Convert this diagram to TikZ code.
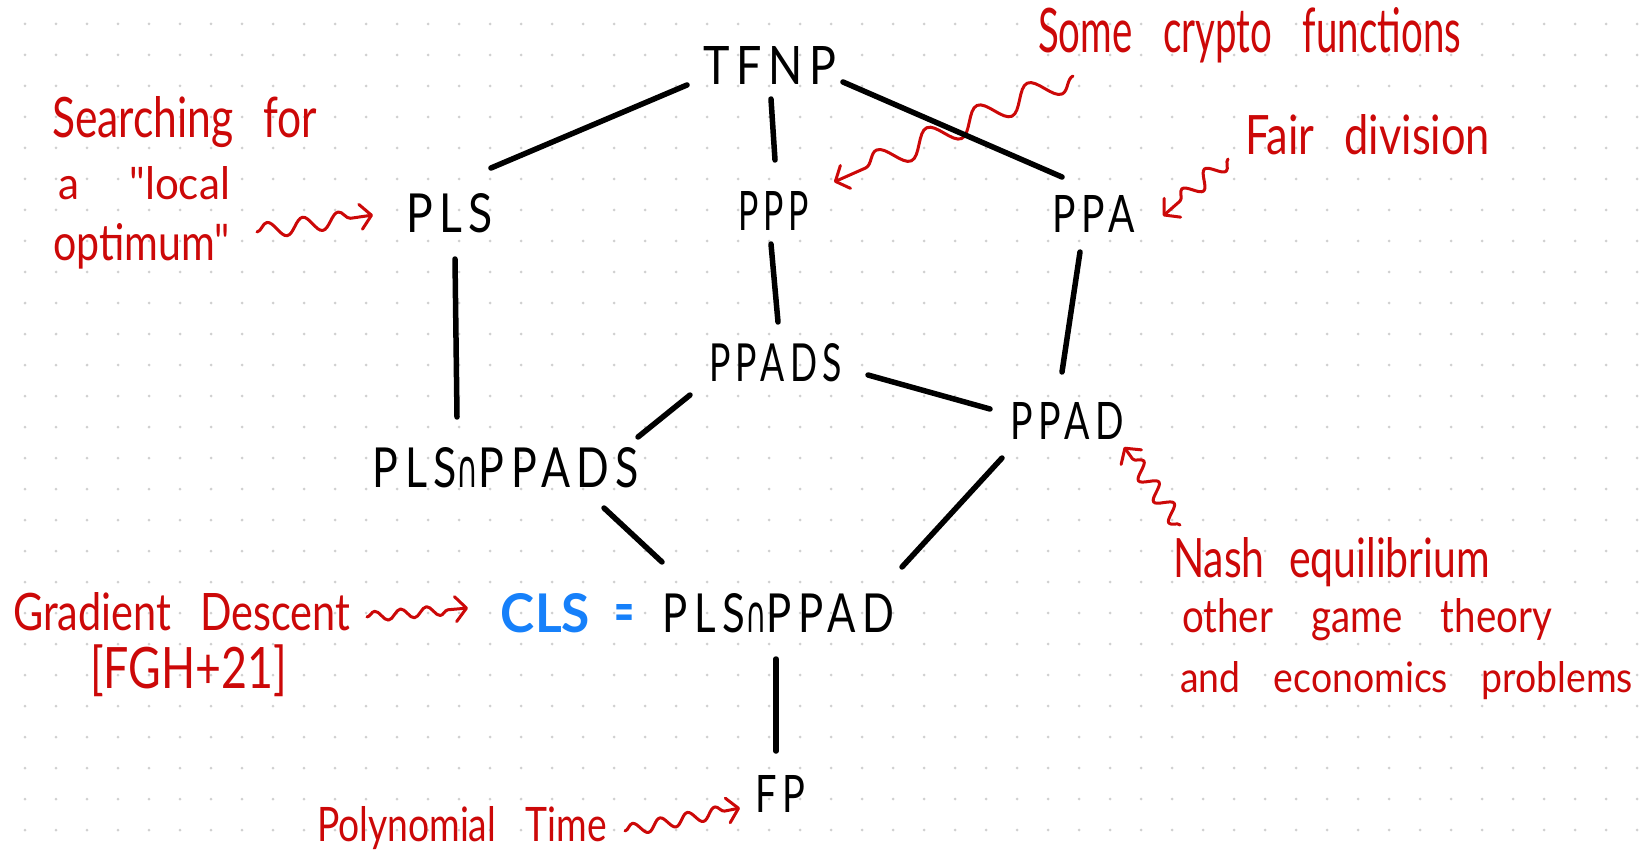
\documentclass[tikz,border=0pt]{standalone}
\usepackage{fontspec}
\usepackage{graphicx}
\setmainfont{Lato}
\newfontfamily\symfont{DejaVu Sans}
\newfontfamily\quotefont{Lato}[Ligatures=TeXOff]
\newfontfamily\labfont{Lato}[LetterSpace=15.0]
\usetikzlibrary{arrows.meta,decorations.pathmorphing}

\definecolor{notered}{RGB}{204,8,8}
\definecolor{clsblue}{RGB}{22,128,250}
\definecolor{dotgray}{RGB}{208,208,208}

% text scaled to a given width and height, with its depth hidden
\newcommand{\fitbox}[3]{\raisebox{0pt}[\height][0pt]{\resizebox{#1}{#2}{#3}}}
\newcommand{\capsym}{{\symfont\scalebox{0.7}[0.95]{∩}}}
\newcommand{\sq}{{\quotefont"}}

\tikzset{
  lbl/.style={inner sep=0pt, outer sep=0pt, font=\labfont\fontsize{40}{48}\selectfont},
  note/.style={inner sep=0pt, outer sep=0pt, anchor=base west, text=notered,
    font=\fontsize{40}{48}\selectfont},
  edge/.style={line width=5.5pt, line cap=round, black},
  squig/.style={notered, line width=3pt, line cap=round, line join=round, decorate,
    -{Straight Barb[length=11pt,width=25pt,round]}}
}

\begin{document}
\begin{tikzpicture}[x=1pt,y=-1pt]
\fill[white] (0,0) rectangle (1639,853);
\useasboundingbox (0,0) rectangle (1639,853);

% dotted paper
\foreach \i in {0,...,52}{
  \foreach \j in {0,...,26}{
    \fill[dotgray] ({25+31*\i},{24+31*\j}) circle[radius=1.5pt];
  }
}

% complexity classes
\node[lbl] (tfnp) at (769.5,65) {\fitbox{133pt}{38pt}{TFNP}};
\node[lbl] (pls) at (449.5,212.5) {\fitbox{87pt}{39pt}{PLS}};
\node[lbl] (ppp) at (773.5,210.5) {\fitbox{71pt}{39pt}{PPP}};
\node[lbl] (ppa) at (1093.5,213.5) {\fitbox{83pt}{37pt}{PPA}};
\node[lbl] (ppads) at (775.5,362) {\fitbox{133pt}{38pt}{PPADS}};
\node[lbl] (ppad) at (1067,420.5) {\fitbox{114pt}{37pt}{PPAD}};
\node[lbl] (plsppads) at (506,467) {\fitbox{266pt}{40pt}{PLS\capsym PPADS}};
\node[lbl] (clsppad) at (697.5,612.5) {{\color{clsblue}\fontspec{Lato}\bfseries\fitbox{89pt}{39pt}{CLS}\hspace{25pt}\fitbox{20pt}{28pt}{=}}\hspace{28pt}\fitbox{231pt}{39pt}{PLS\capsym PPAD}};
\node[lbl] (fp) at (780,793.5) {\fitbox{50pt}{37pt}{FP}};

% annotations
\node[note] (srch1) at (52,138) {\fitbox{265pt}{41pt}{Searching\hspace{0.7em}for}};
\node[note] (srch2) at (58,200) {\fitbox{172pt}{33pt}{a\hspace{1.2em}\sq local}};
\node[note] (srch3) at (53,260) {\fitbox{177pt}{37pt}{optimum\sq}};
\node[note] (crypto) at (1038,53) {\fitbox{423pt}{45pt}{Some\hspace{0.8em}crypto\hspace{0.8em}functions}};
\node[note] (fair) at (1245,155) {\fitbox{245pt}{40pt}{Fair\hspace{0.7em}division}};
\node[note] (nash1) at (1173,577) {\fitbox{317pt}{40pt}{Nash\hspace{0.6em}equilibrium}};
\node[note] (nash2) at (1182,632) {\fitbox{370pt}{34pt}{other\hspace{1em}game\hspace{1em}theory}};
\node[note] (nash3) at (1180,692) {\fitbox{453pt}{31pt}{and\hspace{0.9em}economics\hspace{0.9em}problems}};
\node[note] (grad) at (13,630) {\fitbox{337pt}{38pt}{Gradient\hspace{0.7em}Descent}};
\node[note, anchor=north west] (fgh) at (90,645) {\resizebox*{197pt}{52pt}{[FGH+21]}};
\node[note] (poly) at (317,841) {\fitbox{290pt}{35pt}{Polynomial\hspace{0.8em}Time}};

% wavy pointers
\coordinate (s1) at (257,232);
\coordinate (s2) at (1073,76);
\coordinate (s3) at (1228,159);
\coordinate (s4) at (1180,525);
\coordinate (s5) at (367,617);
\coordinate (s6) at (625,831);
\draw[squig, decoration={snake,amplitude=8pt,segment length=36pt,post length=12pt}]
  (s1) -- ([shift={(-33,2.5)}]pls.west);
\draw[squig, decoration={snake,amplitude=12pt,segment length=55pt,post length=12pt}]
  (s2) -- ([shift={(25,-28.5)}]ppp.east);
\draw[squig, decoration={snake,amplitude=8pt,segment length=30pt,post length=12pt}]
  (s3) -- ([shift={(28,2.5)}]ppa.east);
\draw[squig, decoration={snake,amplitude=8pt,segment length=26pt,post length=10pt}]
  (s4) -- ([shift={(0,8)}]ppad.south east);
\draw[squig, decoration={snake,amplitude=5pt,segment length=26pt,post length=14pt}]
  (s5) -- ([shift={(-33,-4.5)}]clsppad.west);
\draw[squig, decoration={snake,amplitude=6pt,segment length=28pt,post length=12pt}]
  (s6) -- ([shift={(-15,14.5)}]fp.west);

% inclusions
\draw[edge] ([shift={(-16,1)}]tfnp.south west) -- ([shift={(-2,-25)}]pls.north east);
\draw[edge] ([shift={(1.5,15)}]tfnp.south) -- ([shift={(1.5,-31)}]ppp.north);
\draw[edge] ([shift={(7,-2)}]tfnp.south east) -- ([shift={(10,-18)}]ppa.north west);
\draw[edge] ([shift={(5.5,27)}]pls.south) -- ([shift={(-49,-30)}]plsppads.north);
\draw[edge] ([shift={(-2.5,14)}]ppp.south) -- ([shift={(2.5,-21)}]ppads.north);
\draw[edge] ([shift={(-13.5,20)}]ppa.south) -- ([shift={(-5,-30)}]ppad.north);
\draw[edge] ([shift={(26,13)}]ppads.east) -- ([shift={(-20,-11.5)}]ppad.west);
\draw[edge] ([shift={(-19,14)}]ppads.south west) -- ([shift={(-1,-10)}]plsppads.north east);
\draw[edge] ([shift={(98,21)}]plsppads.south) -- ([shift={(-35.5,-31)}]clsppad.north);
\draw[edge] ([shift={(-8,19)}]ppad.south west) -- ([shift={(8,-26)}]clsppad.north east);
\draw[edge] ([shift={(78.5,27)}]clsppad.south) -- ([shift={(-4,-24)}]fp.north);
\end{tikzpicture}
\end{document}
